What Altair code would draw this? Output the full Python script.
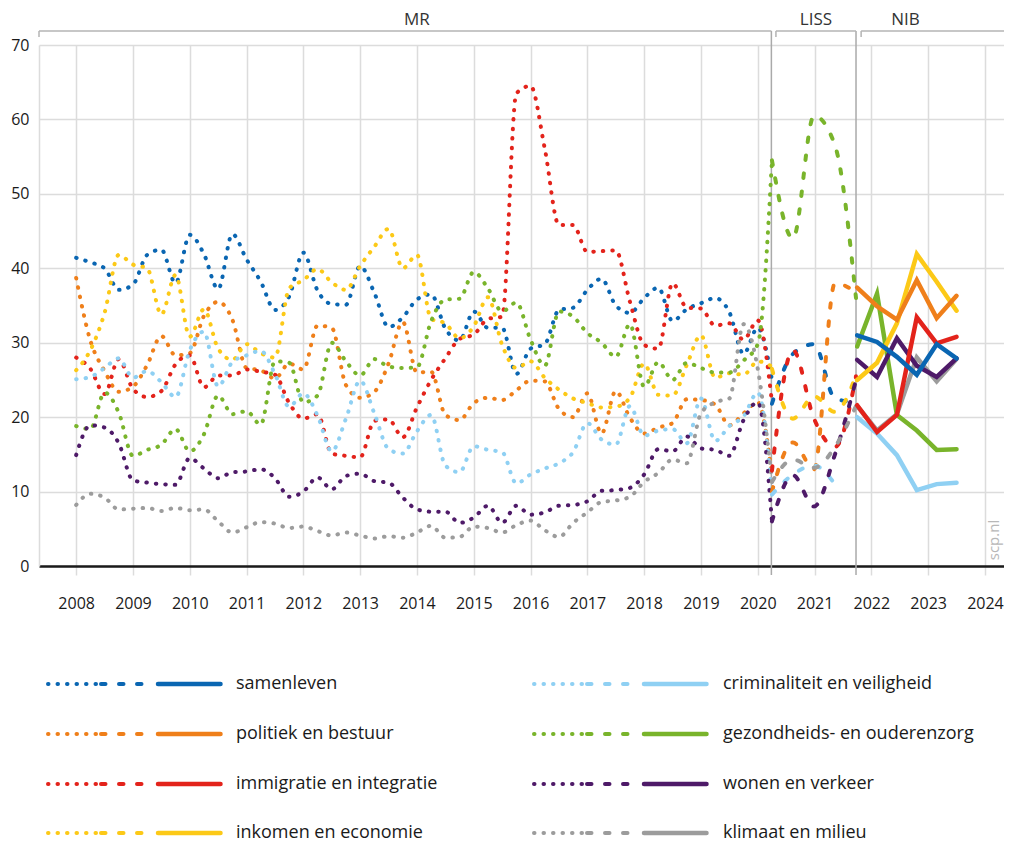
import altair as alt
import pandas as pd

# ---------------- data ----------------
SERIES = ["samenleven", "politiek en bestuur", "immigratie en integratie", "inkomen en economie",
          "criminaliteit en veiligheid", "gezondheids- en ouderenzorg", "wonen en verkeer", "klimaat en milieu"]
COLORS = ["#0a66b2", "#ef7f1a", "#e3231b", "#fcc917", "#8fd0f3", "#79b42b", "#4e1a68", "#9c9c9c"]
# drawing order of the solid (NIB) lines, bottom to top
NIB_Z = ["klimaat en milieu", "criminaliteit en veiligheid", "gezondheids- en ouderenzorg", "wonen en verkeer",
         "inkomen en economie", "politiek en bestuur", "immigratie en integratie", "samenleven"]

PERIODS = ["MR", "LISS", "NIB"]
YEAR_TICKS = list(range(2008, 2025))
Y_TICKS = list(range(0, 71, 10))

MR_YEARS = [2008 + q / 4 for q in range(50)]
LISS_YEARS = [2020.25, 2020.62, 2020.99, 2021.36, 2021.73]
NIB_YEARS = [2021.75, 2022.10, 2022.45, 2022.80, 2023.15, 2023.50]

samenleven_mr = [41.4, 40.8, 40.0, 37.1, 37.8, 41.8, 42.5, 38.0, 44.5, 41.9,
                 37.2, 44.6, 41.2, 38.2, 34.4, 36.2, 42.1, 37.0, 35.2, 35.1,
                 40.3, 36.7, 32.1, 33.4, 35.8, 36.5, 31.9, 30.3, 34.2, 32.0,
                 32.0, 25.8, 29.2, 29.8, 34.4, 34.7, 37.1, 38.6, 35.0, 34.0,
                 36.0, 37.4, 32.9, 34.5, 35.3, 36.0, 34.1, 28.5, 32.0, 25.0]
politiek_mr = [38.7, 30.3, 26.2, 23.4, 24.1, 27.0, 30.9, 28.3, 28.6, 33.6,
               35.5, 33.1, 26.6, 26.3, 25.2, 27.2, 26.4, 32.3, 32.0, 24.3,
               22.6, 23.4, 27.2, 32.8, 26.0, 26.1, 20.3, 19.6, 21.9, 22.6,
               22.3, 23.6, 24.9, 24.8, 21.1, 20.0, 23.2, 17.8, 23.5, 19.9,
               17.8, 18.6, 19.2, 22.4, 22.3, 21.7, 18.9, 20.5, 22.0, 12.0]
immigratie_mr = [28.0, 26.5, 23.1, 27.8, 23.8, 22.7, 23.5, 27.1, 28.3, 24.0,
                 25.6, 25.6, 26.4, 26.1, 25.7, 21.9, 19.8, 20.4, 15.1, 14.8,
                 14.6, 19.5, 19.7, 17.3, 21.3, 25.0, 27.9, 30.5, 31.1, 33.2,
                 33.5, 63.5, 64.5, 56.1, 45.8, 45.8, 42.2, 42.3, 42.4, 35.5,
                 29.7, 29.2, 38.0, 34.7, 34.6, 32.3, 32.6, 30.4, 33.0, 22.0]
inkomen_mr = [26.3, 29.0, 34.0, 41.8, 40.5, 40.0, 33.8, 39.1, 30.8, 34.5,
              29.2, 27.7, 29.8, 28.6, 28.0, 37.3, 38.4, 39.9, 38.1, 37.1,
              40.3, 42.9, 45.3, 40.0, 41.8, 33.2, 32.6, 30.6, 32.2, 36.1,
              29.7, 26.6, 27.5, 25.3, 23.7, 22.5, 21.9, 21.3, 21.4, 22.6,
              27.2, 23.0, 22.9, 27.0, 31.0, 25.3, 25.9, 25.7, 27.5, 26.8]
criminaliteit_mr = [25.1, 25.4, 26.6, 27.9, 25.3, 26.2, 24.7, 22.7, 29.0, 31.5,
                    24.1, 27.4, 28.3, 28.9, 25.8, 21.4, 23.2, 20.2, 15.4, 19.8,
                    24.9, 20.5, 15.7, 15.1, 18.1, 20.3, 13.5, 12.6, 16.1, 15.6,
                    15.3, 11.1, 12.3, 13.1, 13.8, 15.3, 19.2, 17.0, 16.3, 21.5,
                    17.5, 18.2, 18.4, 16.5, 22.5, 16.8, 18.8, 20.1, 23.3, 9.8]
gezondheid_mr = [18.8, 18.4, 23.3, 20.6, 14.8, 15.6, 16.3, 18.4, 15.4, 17.7,
                 22.9, 20.4, 20.8, 19.0, 27.5, 27.3, 22.0, 22.9, 30.0, 27.5,
                 25.6, 27.8, 26.8, 26.6, 26.7, 32.9, 35.8, 35.9, 39.5, 37.3,
                 34.2, 35.4, 30.4, 26.9, 34.2, 33.5, 31.3, 30.0, 28.1, 32.5,
                 24.1, 27.4, 25.0, 27.3, 26.6, 26.0, 26.0, 27.6, 29.8, 54.5]
wonen_mr = [14.9, 18.9, 18.6, 16.5, 11.5, 11.2, 11.0, 10.9, 14.5, 13.1,
            11.8, 12.6, 12.7, 13.0, 11.8, 9.3, 10.0, 11.9, 10.3, 12.1,
            12.4, 11.4, 11.2, 9.2, 7.6, 7.3, 7.3, 5.8, 6.5, 8.1,
            5.8, 8.1, 6.9, 7.2, 8.1, 8.2, 8.7, 10.1, 10.2, 10.5,
            12.3, 15.7, 15.4, 17.4, 15.8, 15.6, 14.8, 19.6, 22.0, 6.0]
klimaat_mr = [8.2, 9.7, 9.2, 7.6, 7.7, 7.8, 7.4, 7.8, 7.5, 7.6,
              6.0, 4.5, 5.2, 5.9, 5.7, 5.1, 5.3, 4.7, 4.1, 4.5,
              4.1, 3.7, 4.0, 3.8, 4.5, 5.4, 3.8, 3.9, 5.3, 5.1,
              4.5, 5.5, 6.1, 4.8, 3.9, 5.8, 7.2, 8.6, 8.8, 9.3,
              11.3, 12.5, 14.3, 13.8, 20.5, 22.0, 22.5, 32.5, 26.5, 11.3]

samenleven_liss = [21.8, 28.5, 29.8, 22.5, 22.0]
politiek_liss = [10.0, 16.6, 13.0, 38.0, 36.8]
immigratie_liss = [12.8, 29.0, 19.8, 16.0, 25.5]
inkomen_liss = [26.5, 19.8, 22.8, 20.7, 25.6]
criminaliteit_liss = [9.6, 12.3, 13.5, 11.0, None]
gezondheid_liss = [54.5, 44.0, 60.5, 56.5, 36.0]
wonen_liss = [6.0, 12.2, 8.0, 15.0, 25.0]
klimaat_liss = [11.3, 14.3, 13.2, 16.0, 21.5]

samenleven_nib = [31.0, 30.1, 28.1, 25.7, 29.8, 27.9]
politiek_nib = [37.4, 34.9, 33.1, 38.4, 33.3, 36.3]
immigratie_nib = [21.6, 18.0, 20.3, 33.4, 29.9, 30.8]
inkomen_nib = [25.0, 27.3, 32.6, 41.9, 38.2, 34.3]
criminaliteit_nib = [20.0, 17.8, 14.9, 10.2, 11.0, 11.2]
gezondheid_nib = [29.5, 36.6, 20.3, 18.2, 15.6, 15.7]
wonen_nib = [27.7, 25.4, 30.6, 26.9, 25.4, 27.9]
klimaat_nib = [21.5, 18.2, 20.4, 28.0, 24.8, 27.8]

MR = dict(zip(SERIES, [samenleven_mr, politiek_mr, immigratie_mr, inkomen_mr,
                       criminaliteit_mr, gezondheid_mr, wonen_mr, klimaat_mr]))
LISS = dict(zip(SERIES, [samenleven_liss, politiek_liss, immigratie_liss, inkomen_liss,
                         criminaliteit_liss, gezondheid_liss, wonen_liss, klimaat_liss]))
NIB = dict(zip(SERIES, [samenleven_nib, politiek_nib, immigratie_nib, inkomen_nib,
                        criminaliteit_nib, gezondheid_nib, wonen_nib, klimaat_nib]))

# period boundaries (years)
MR_END = 2020.24
LISS_START = 2020.32
LISS_END = 2021.73
NIB_START = 2021.82


def long(years, table, order):
    rows = []
    for s in order:
        for x, y in zip(years, table[s]):
            if y is not None:
                rows.append({"series": s, "x": x, "y": y})
    return pd.DataFrame(rows)


df_mr = long(MR_YEARS, MR, SERIES)
df_liss = long(LISS_YEARS, LISS, SERIES)
df_nib = long(NIB_YEARS, NIB, NIB_Z)

# ---------------- layout ----------------
PX_PER_YEAR = 56.8
W, H = 965, 521
X_MIN = 2007.346
X_MAX = X_MIN + W / PX_PER_YEAR
Y_MIN, Y_MAX = 0.0, 70.0
PX_X = PX_PER_YEAR
PX_Y = H / (Y_MAX - Y_MIN)
PAGE_MARGIN = 8
PAD = {"left": 31, "top": 37, "right": 0, "bottom": 276}
PLOT_LEFT = PAGE_MARGIN + PAD["left"]          # page px of the plot's left edge
PLOT_BOTTOM = PAGE_MARGIN + PAD["top"] + H     # page px of the plot's bottom edge


def px2x(px):
    return X_MIN + (px - PLOT_LEFT) / PX_X


def px2y(py):
    return (PLOT_BOTTOM - py) / PX_Y


FONT = "Open Sans"
GRID = "#dcdcdc"
SEP = "#aaaaaa"

xs = alt.Scale(domain=[X_MIN, X_MAX], nice=False, zero=False)
ys = alt.Scale(domain=[Y_MIN, Y_MAX], nice=False, zero=False)
xaxis = alt.Axis(values=YEAR_TICKS, format="d", title=None, labelFont=FONT, labelFontSize=16,
                 labelColor="#1a1a1a", labelPadding=20, tickSize=9, tickColor=GRID, tickWidth=1.5,
                 grid=True, gridColor=GRID, gridWidth=1.5, domainColor="#1a1a1a", domainWidth=2.5,
                 labelFlush=False)
yaxis = alt.Axis(values=Y_TICKS, title=None, labelFont=FONT, labelFontSize=16, labelColor="#1a1a1a",
                 labelPadding=10, tickSize=0, grid=True, gridColor=GRID, gridWidth=1.5,
                 domain=True, domainColor=GRID, domainWidth=1.5)
X = alt.X("x:Q", scale=xs, axis=xaxis)
Y = alt.Y("y:Q", scale=ys, axis=yaxis)
COLOR = alt.Color("series:N", scale=alt.Scale(domain=SERIES, range=COLORS), legend=None)

DOT = dict(strokeWidth=4, strokeDash=[0.5, 9.0], strokeCap="round")
DASH = dict(strokeWidth=4, strokeDash=[4.5, 13.5], strokeCap="round")
SOLID = dict(strokeWidth=4.5, strokeCap="round", strokeJoin="miter")

# brackets & separators
BR_Y, BR_TICK_Y, SEP_BOTTOM = px2y(31), px2y(37), px2y(575)
brackets = pd.DataFrame({
    "x": [X_MIN, LISS_START, NIB_START],
    "x2": [MR_END, LISS_END, X_MAX],
    "y": [BR_Y] * 3, "y2": [BR_Y] * 3})
ticks = pd.DataFrame({
    "x": [X_MIN, LISS_START, NIB_START], "x2": [X_MIN, LISS_START, NIB_START],
    "y": [BR_TICK_Y] * 3, "y2": [BR_Y] * 3})
seps = pd.DataFrame({"x": [MR_END, LISS_END], "x2": [MR_END, LISS_END],
                     "y": [SEP_BOTTOM] * 2, "y2": [BR_Y] * 2})
period_labels = pd.DataFrame({
    "x": [2014.0, (LISS_START + LISS_END) / 2, 2022.6],
    "y": [px2y(20)] * 3, "label": PERIODS})

rule_kw = dict(clip=False, strokeWidth=1.5)
enc_rule = dict(x=X, x2="x2:Q", y=Y, y2="y2:Q")
bracket_layer = alt.Chart(brackets).mark_rule(color="#b4b4b4", **rule_kw).encode(**enc_rule)
tick_layer = alt.Chart(ticks).mark_rule(color="#b4b4b4", **rule_kw).encode(**enc_rule)
sep_layer = alt.Chart(seps).mark_rule(color=SEP, **rule_kw).encode(**enc_rule)
period_layer = alt.Chart(period_labels).mark_text(
    font=FONT, fontSize=17, color="#333333", baseline="middle", align="center", clip=False
).encode(x=X, y=Y, text="label:N")

line_enc = dict(x=X, y=Y, color=COLOR, detail="series:N")
mr_layer = alt.Chart(df_mr).mark_line(interpolate="monotone", clip=False, **DOT).encode(**line_enc)
liss_layer = alt.Chart(df_liss).mark_line(interpolate="monotone", clip=False, **DASH).encode(**line_enc)
nib_layers = [
    alt.Chart(df_nib[df_nib["series"] == s]).mark_line(interpolate="linear", clip=False, **SOLID).encode(**line_enc)
    for s in NIB_Z
]

# legend (custom: dotted + dashed + solid sample)
LEG_ROWS_PX = [684, 734, 784, 833]
LEG_COL_OFFSETS_PX = [0, 486]
SEG_PX = {"dot": (48, 98.5), "dash": (101, 147), "solid": (158, 220.5)}
TEXT_PX = 236

leg_rows = {"dot": [], "dash": [], "solid": []}
leg_text = []
for i, s in enumerate(SERIES):
    col, row = divmod(i, 4)
    off = LEG_COL_OFFSETS_PX[col]
    yy = px2y(LEG_ROWS_PX[row])
    for seg, (a, b) in SEG_PX.items():
        leg_rows[seg].append({"series": s, "x": px2x(a + off), "y": yy})
        leg_rows[seg].append({"series": s, "x": px2x(b + off), "y": yy})
    leg_text.append({"series": s, "x": px2x(TEXT_PX + off + (1 if col else 0)), "y": yy, "label": s})

leg_dot = alt.Chart(pd.DataFrame(leg_rows["dot"])).mark_line(clip=False, **DOT).encode(**line_enc)
leg_dash = alt.Chart(pd.DataFrame(leg_rows["dash"])).mark_line(clip=False, **DASH).encode(**line_enc)
leg_solid = alt.Chart(pd.DataFrame(leg_rows["solid"])).mark_line(clip=False, **SOLID).encode(**line_enc)
leg_label = alt.Chart(pd.DataFrame(leg_text)).mark_text(
    font=FONT, fontSize=18, color="#1a1a1a", align="left", baseline="middle", clip=False
).encode(x=X, y=Y, text="label:N")

mark_df = pd.DataFrame({"x": [px2x(994)], "y": [px2y(540)], "label": ["scp.nl"]})
watermark = alt.Chart(mark_df).mark_text(
    font=FONT, fontSize=15, color="#b8b8b8", angle=270, align="center", baseline="middle", clip=False
).encode(x=X, y=Y, text="label:N")

chart = alt.layer(
    sep_layer, bracket_layer, tick_layer, period_layer,
    mr_layer, liss_layer, *nib_layers,
    leg_dot, leg_dash, leg_solid, leg_label, watermark
).properties(
    width=W, height=H,
    autosize=alt.AutoSizeParams(type="none"),
    padding=PAD
).configure_view(stroke=None)

chart.save("out.html", embed_options={"renderer": "svg", "actions": False})
